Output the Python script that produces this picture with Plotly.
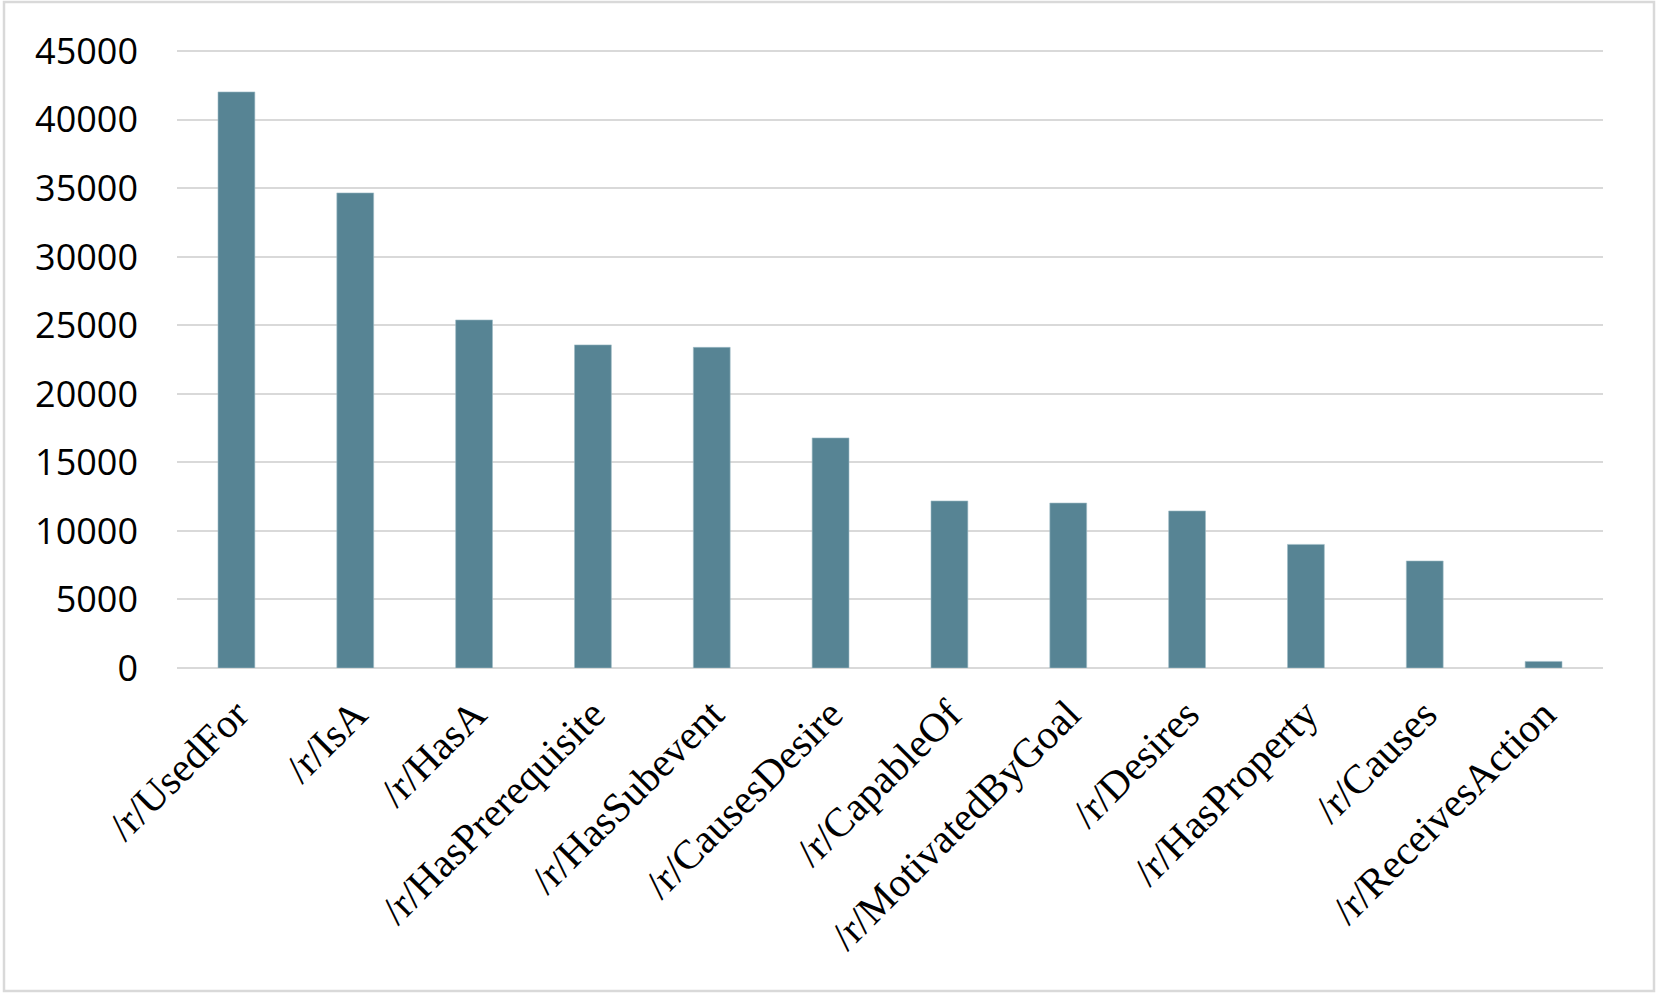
import plotly.graph_objects as go

# relation types and their edge counts
relations = ['/r/UsedFor', '/r/IsA', '/r/HasA', '/r/HasPrerequisite', '/r/HasSubevent',
             '/r/CausesDesire', '/r/CapableOf', '/r/MotivatedByGoal', '/r/Desires',
             '/r/HasProperty', '/r/Causes', '/r/ReceivesAction']
counts = [42040, 34670, 25400, 23580, 23400, 16790, 12190, 12040, 11460, 9020, 7810, 480]

y_ticks = list(range(0, 45001, 5000))
y_max = 45100

W, H = 1663, 999
ML, MR, MT, MB = 177, 60, 50, 331

fig = go.Figure(go.Bar(
    x=relations,
    y=counts,
    width=0.31,
    marker=dict(color='#578494', line=dict(color='#9fbcc6', width=0.6)),
))

fig.update_xaxes(
    tickangle=-45,
    tickfont=dict(family='Liberation Serif', size=41, color='black'),
    showline=False,
    showgrid=False,
    ticks='',
    ticklabelstandoff=13,
)
fig.update_yaxes(
    range=[0, y_max],
    tickvals=y_ticks,
    ticktext=[str(v) for v in y_ticks],
    tickfont=dict(family='Open Sans', size=36, color='black'),
    gridcolor='#d9d9d9',
    gridwidth=2,
    zeroline=True,
    zerolinecolor='#d9d9d9',
    zerolinewidth=2,
    showline=False,
    ticks='',
    ticklabelstandoff=38,
)

# thin grey frame around the whole chart
pw, ph = W - ML - MR, H - MT - MB
fig.add_shape(
    type='rect', xref='paper', yref='paper',
    x0=(4 - ML) / pw, x1=(1654 - ML) / pw,
    y0=(H - 991 - MB) / ph, y1=(H - 2 - MB) / ph,
    line=dict(color='#d9d9d9', width=2.5), fillcolor='rgba(0,0,0,0)',
    layer='below',
)

fig.update_layout(
    width=W, height=H,
    margin=dict(l=ML, r=MR, t=MT, b=MB),
    plot_bgcolor='white',
    paper_bgcolor='white',
    showlegend=False,
    bargap=0.69,
)

# drop the browser's default body margin so the figure sits at 0,0
fig.write_html("out.html", config={'displayModeBar': False},
               post_script="document.body.style.margin='0';")
